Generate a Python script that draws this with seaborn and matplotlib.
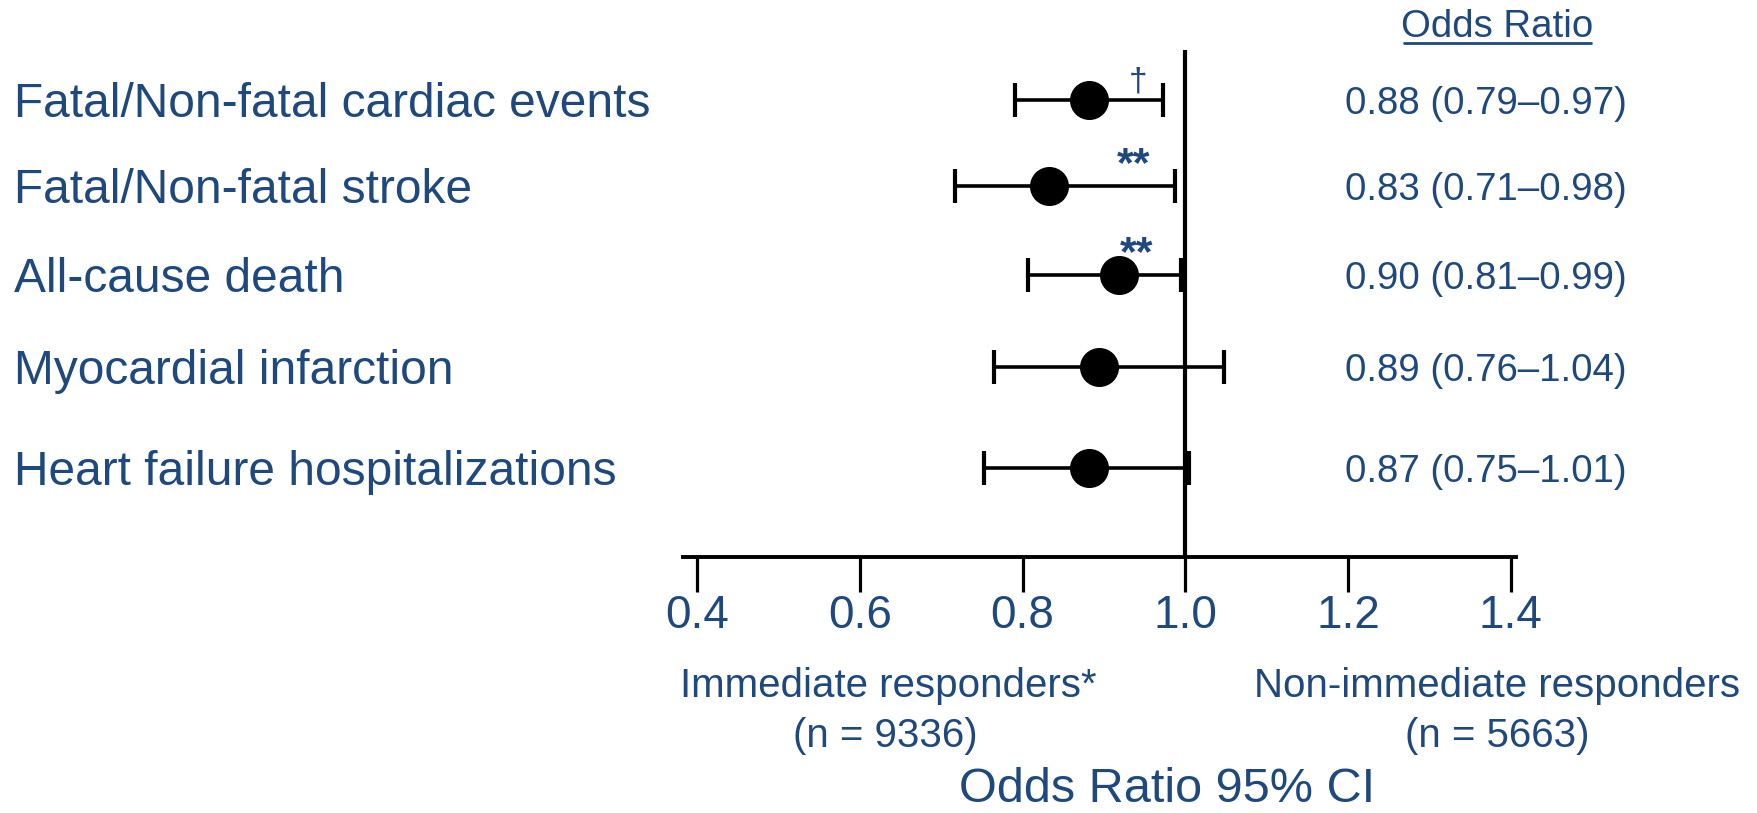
import matplotlib
matplotlib.use("Agg")
import matplotlib.pyplot as plt
from matplotlib.lines import Line2D
import pandas as pd
import seaborn as sns

# values
outcomes = [
    "Fatal/Non-fatal cardiac events",
    "Fatal/Non-fatal stroke",
    "All-cause death",
    "Myocardial infarction",
    "Heart failure hospitalizations",
]
odds_ratio = [0.881, 0.833, 0.918, 0.894, 0.882]
ci_low = [0.791, 0.717, 0.807, 0.765, 0.752]
ci_high = [0.972, 0.987, 0.995, 1.048, 1.004]
or_labels = [
    "0.88 (0.79\u20130.97)",
    "0.83 (0.71\u20130.98)",
    "0.90 (0.81\u20130.99)",
    "0.89 (0.76\u20131.04)",
    "0.87 (0.75\u20131.01)",
]
sig_marks = ["\u2020", "**", "**", "", ""]
x_ticks = [0.4, 0.6, 0.8, 1.0, 1.2, 1.4]
x_tick_labels = ["0.4", "0.6", "0.8", "1.0", "1.2", "1.4"]

# layout (row positions are slightly uneven in the original slide)
row_pos = [0, 0.99, 2.01, 3.07, 4.23]
mark_x = [0.942, 0.936, 0.940, 0, 0]
mark_size = [24, 31, 31, 0, 0]
mark_weight = ["normal", "bold", "bold", "normal", "normal"]

BLUE = "#1F497D"

df = pd.DataFrame({"outcome": outcomes, "OR": odds_ratio, "lo": ci_low,
                   "hi": ci_high, "row": row_pos})

sns.set_theme(style="white")
plt.rcParams["font.family"] = ["Liberation Sans", "DejaVu Sans"]

fig = plt.figure(figsize=(17.58, 8.13), dpi=100)
ax = fig.add_axes([0.3885, 0.3149, 0.4738, 0.6236])

ax.errorbar(df["OR"], df["row"], xerr=[df["OR"] - df["lo"], df["hi"] - df["OR"]],
            fmt="none", ecolor="black", elinewidth=2.6, capsize=12, capthick=3,
            zorder=2)
sns.scatterplot(data=df, x="OR", y="row", s=790, color="black",
                edgecolor="black", linewidth=0, zorder=3, ax=ax)

ax.axvline(1.0, color="black", lw=3, zorder=1)

ax.set_xlim(0.3824, 1.4065)
ax.set_ylim(5.253, -0.575)
ax.set_xticks(x_ticks)
ax.set_xticklabels(x_tick_labels)
ax.set_yticks([])
ax.set_xlabel("")
ax.set_ylabel("")
for side in ["top", "right", "left"]:
    ax.spines[side].set_visible(False)
ax.spines["bottom"].set_linewidth(2.8)
ax.spines["bottom"].set_color("black")
ax.tick_params(axis="x", direction="out", length=25, width=2.3, color="black",
               pad=2, labelsize=33, labelcolor=BLUE, bottom=True)

# row labels on the left and OR text on the right
for name, lab, mark, mx, ms, mw, r in zip(outcomes, or_labels, sig_marks, mark_x,
                                          mark_size, mark_weight, row_pos):
    ax.annotate(name, xy=(14 / 1758, r), xycoords=("figure fraction", "data"),
                xytext=(0, -12.3), textcoords="offset points",
                ha="left", va="baseline", fontsize=34.5, color=BLUE)
    ax.annotate(lab, xy=(0.8453, r), xycoords=("figure fraction", "data"),
                xytext=(0, -10), textcoords="offset points",
                ha="center", va="baseline", fontsize=27.6, color=BLUE)
    if mark:
        ax.annotate(mark, xy=(mx, r), xycoords="data",
                    xytext=(0, 7), textcoords="offset points",
                    ha="center", va="baseline", fontsize=ms, fontweight=mw,
                    color=BLUE)

fig.text(0.8515, 0.9545, "Odds Ratio", ha="center", va="baseline",
         fontsize=27.6, color=BLUE)
fig.add_artist(Line2D([1404 / 1758, 1591 / 1758], [0.947, 0.947],
                      color=BLUE, lw=2))

fig.text(0.5051, 0.1427, "Immediate responders*", ha="center", va="baseline",
         fontsize=29, color=BLUE)
fig.text(0.5034, 0.0812, "(n = 9336)", ha="center", va="baseline",
         fontsize=29, color=BLUE)
fig.text(0.8515, 0.1427, "Non-immediate responders", ha="center", va="baseline",
         fontsize=29, color=BLUE)
fig.text(0.8515, 0.0812, "(n = 5663)", ha="center", va="baseline",
         fontsize=29, color=BLUE)
fig.text(0.6638, 0.001, "Odds Ratio 95% CI", ha="center", va="bottom",
         fontsize=35, color=BLUE)

fig.savefig("out.png", dpi=100)
